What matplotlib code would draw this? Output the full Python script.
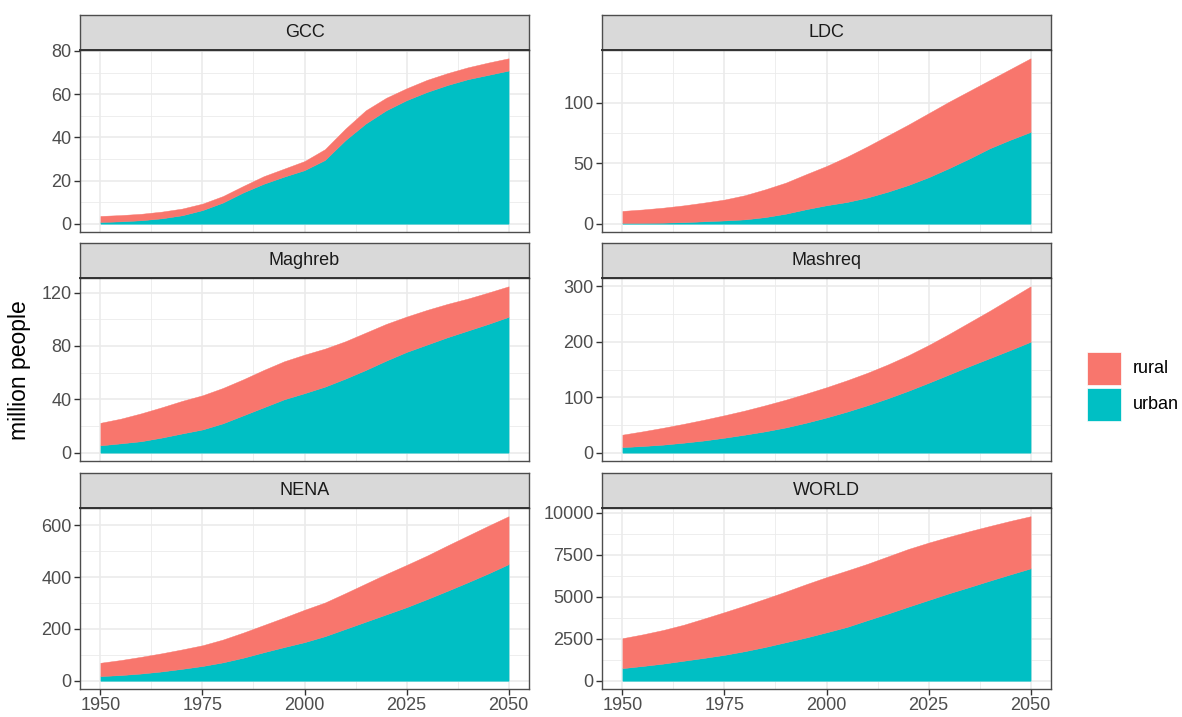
import matplotlib
matplotlib.use('Agg')
import matplotlib.pyplot as plt
from matplotlib.patches import Rectangle
from matplotlib.ticker import MultipleLocator
import numpy as np

plt.rcParams['font.family'] = ['Liberation Sans', 'DejaVu Sans']

# data (million people), every 5 years
years = list(range(1950, 2051, 5))
regions = ['GCC', 'LDC', 'Maghreb', 'Mashreq', 'NENA', 'WORLD']

gcc_urban = [0.8, 1.1, 1.6, 2.5, 3.9, 6.3, 9.8, 14.5, 18.5, 21.8, 24.8, 29.5, 38.7, 46.4, 52.5, 57.2, 61.0, 64.2, 66.9, 68.9, 70.9]
gcc_rural = [2.8, 2.9, 3.0, 3.1, 3.1, 3.0, 3.0, 3.0, 3.5, 3.7, 4.2, 5.0, 5.3, 6.1, 5.8, 5.5, 5.6, 5.5, 5.5, 5.7, 5.7]

ldc_urban = [0.6, 0.7, 0.9, 1.3, 2.0, 2.7, 3.6, 5.5, 8.3, 12.0, 15.3, 18.0, 21.7, 26.5, 32.0, 38.5, 46.0, 54.0, 62.5, 69.5, 76.0]
ldc_rural = [10.0, 11.1, 12.4, 13.9, 15.5, 17.3, 20.0, 23.0, 25.7, 29.0, 32.5, 37.5, 42.3, 46.5, 50.0, 53.0, 55.0, 56.0, 56.5, 58.5, 61.0]

maghreb_urban = [5.5, 7.0, 8.6, 11.3, 14.4, 17.4, 22.0, 28.0, 34.0, 40.0, 44.6, 49.5, 55.5, 62.0, 69.0, 75.5, 81.0, 86.5, 91.5, 96.5, 101.8]
maghreb_rural = [16.9, 18.5, 20.9, 22.7, 24.4, 25.6, 26.5, 27.0, 28.0, 28.5, 28.9, 28.5, 28.0, 28.0, 27.5, 26.5, 26.0, 25.0, 24.0, 23.5, 22.9]

mashreq_urban = [10.0, 12.0, 14.5, 18.0, 22.0, 27.0, 32.5, 38.5, 45.5, 54.0, 63.5, 74.0, 85.5, 98.0, 111.5, 126.0, 141.0, 156.0, 170.5, 185.0, 200.0]
mashreq_rural = [22.5, 26.5, 30.5, 34.0, 37.5, 40.5, 43.5, 47.0, 50.0, 52.5, 54.5, 56.5, 58.5, 61.0, 64.0, 68.0, 73.0, 79.0, 85.5, 93.0, 100.0]

nena_urban = [18.0, 22.0, 28.0, 36.0, 46.0, 57.0, 71.0, 89.0, 110.0, 130.0, 149.0, 172.0, 200.0, 228.0, 256.0, 284.0, 315.0, 347.0, 380.0, 414.0, 450.0]
nena_rural = [51.5, 58.0, 64.5, 70.0, 75.0, 80.0, 88.0, 97.0, 105.0, 114.0, 125.0, 130.0, 138.0, 147.0, 156.0, 163.0, 168.0, 175.0, 180.0, 184.0, 185.0]

world_urban = [750, 880, 1020, 1190, 1360, 1540, 1760, 2010, 2290, 2570, 2880, 3200, 3600, 3990, 4400, 4800, 5200, 5570, 5950, 6320, 6680]
world_rural = [1780, 1880, 2000, 2140, 2340, 2540, 2710, 2870, 3010, 3170, 3280, 3350, 3350, 3400, 3430, 3410, 3360, 3320, 3250, 3180, 3100]

urban = [gcc_urban, ldc_urban, maghreb_urban, mashreq_urban, nena_urban, world_urban]
rural = [gcc_rural, ldc_rural, maghreb_rural, mashreq_rural, nena_rural, world_rural]

y_ticks = [[0, 20, 40, 60, 80], [0, 50, 100], [0, 40, 80, 120],
           [0, 100, 200, 300], [0, 200, 400, 600], [0, 2500, 5000, 7500, 10000]]
x_ticks = [1950, 1975, 2000, 2025, 2050]

col_rural = '#F8766D'
col_urban = '#00BFC4'
border = '#4D4D4D'

W, H = 1182, 717
fig = plt.figure(figsize=(W / 100, H / 100), dpi=100)


def px_axes(left, top, right, bottom):
    return fig.add_axes([left / W, 1 - bottom / H, (right - left) / W, (bottom - top) / H])


cols = [(80, 529), (602, 1051)]
rows = [(50, 232), (278, 461), (508, 689)]
strip_h = 35

for i, name in enumerate(regions):
    r, c = divmod(i, 2)
    left, right = cols[c]
    top, bottom = rows[r]

    ax = px_axes(left, top, right, bottom)
    u = np.array(urban[i], dtype=float)
    tot = u + np.array(rural[i], dtype=float)
    ax.fill_between(years, 0, u, color=col_urban, lw=0.3, edgecolor=col_urban, zorder=2)
    ax.fill_between(years, u, tot, color=col_rural, lw=0.3, edgecolor=col_rural, zorder=2)

    ymax = tot.max()
    ax.set_ylim(-0.05 * ymax, 1.05 * ymax)
    ax.set_xlim(1945, 2055)
    ax.set_yticks(y_ticks[i])
    yt = y_ticks[i]
    ax.yaxis.set_minor_locator(MultipleLocator((yt[1] - yt[0]) / 2))
    ax.set_xticks(x_ticks)
    ax.xaxis.set_minor_locator(MultipleLocator(12.5))

    ax.grid(which='major', color='#EBEBEB', lw=1.2, zorder=0)
    ax.grid(which='minor', color='#EBEBEB', lw=0.6, zorder=0)
    ax.set_axisbelow(True)
    for s in ax.spines.values():
        s.set_color(border)
        s.set_linewidth(1.0)

    ax.tick_params(which='major', length=4, width=1, color='#333333',
                   labelsize=13, labelcolor='#4D4D4D', pad=2)
    ax.tick_params(which='minor', length=0)
    if r < 2:
        ax.tick_params(axis='x', which='major', length=0, labelbottom=False)

    # facet strip
    sx = px_axes(left, top - strip_h, right, top)
    sx.set_facecolor('#D9D9D9')
    sx.set_xticks([])
    sx.set_yticks([])
    for s in sx.spines.values():
        s.set_color(border)
        s.set_linewidth(1.0)
    sx.spines['bottom'].set_color('#333333')
    sx.spines['bottom'].set_linewidth(1.4)
    sx.text(0.5, 0.5, name, ha='center', va='center', fontsize=13, color='#1A1A1A',
            transform=sx.transAxes)

fig.text(20 / W, 1 - 370 / H, 'million people', rotation=90, ha='center', va='center',
         fontsize=16.5, color='black')

# legend
for j, (lab, colr) in enumerate([('rural', col_rural), ('urban', col_urban)]):
    y0 = 352 + j * 36
    fig.add_artist(Rectangle((1087 / W, 1 - (y0 + 33) / H), 34 / W, 33 / H,
                             transform=fig.transFigure, facecolor=colr, edgecolor='white', lw=0.5))
    fig.text(1133 / W, 1 - (y0 + 16.5) / H, lab, ha='left', va='center', fontsize=13, color='black')

fig.savefig('out.png', dpi=100)
